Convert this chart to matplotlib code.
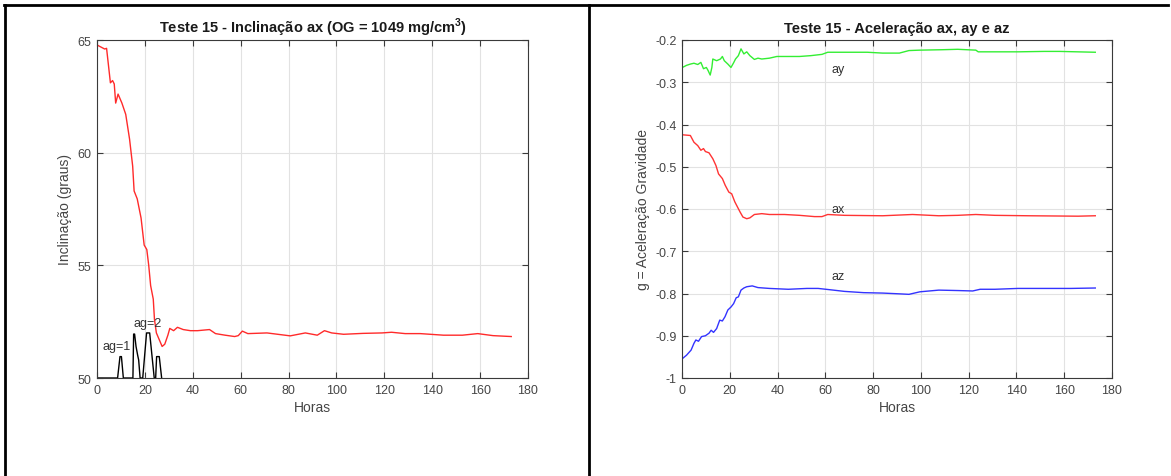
import numpy as np
import matplotlib
matplotlib.use("Agg")
import matplotlib.pyplot as plt
from matplotlib.lines import Line2D

plt.rcParams['font.family'] = ['Liberation Sans', 'DejaVu Sans']
plt.rcParams['mathtext.fontset'] = 'custom'
plt.rcParams['mathtext.rm'] = 'Liberation Sans:bold'
plt.rcParams['mathtext.bf'] = 'Liberation Sans:bold'

# =========================
# Data
# =========================
# Left: inclination ax (graus)
incl_t = [0, 3.2, 4, 5.6, 6.5, 7.2, 7.8, 8.8, 10.4, 12, 13.6, 14.9, 15.5, 16.8,
          18.4, 19.7, 20.8, 21.6, 22.4, 23.5, 24, 24.8, 26, 27.2, 28.3, 29.6,
          30.4, 32, 33.6, 36, 39, 42, 47, 49.5, 53.5, 57.5, 59, 60.7, 63, 71,
          80.7, 87, 92, 95, 98, 103, 111, 119, 123, 128.7, 135, 144.7, 152.6,
          159, 165.4, 173]
incl_v = [64.78, 64.6, 64.63, 63.1, 63.2, 63.05, 62.2, 62.6, 62.2, 61.7, 60.6,
          59.4, 58.3, 57.95, 57.1, 55.9, 55.7, 55.0, 54.1, 53.5, 52.6, 52.0,
          51.7, 51.4, 51.5, 51.9, 52.2, 52.1, 52.25, 52.15, 52.1, 52.1, 52.15,
          51.97, 51.9, 51.84, 51.88, 52.08, 51.97, 52.0, 51.87, 52.0, 51.9,
          52.1, 52.0, 51.94, 51.98, 52.0, 52.03, 51.97, 51.97, 51.9, 51.9,
          51.97, 51.88, 51.84]

# Left: agitation curve (drawn in the same axis units)
ag_t = [0, 8.6, 9.6, 10.2, 11.0, 15.0, 15.3, 15.7, 16.3, 17.0, 17.4, 18.0,
        19.1, 20.7, 22.0, 23.9, 24.5, 24.9, 26.0, 27.0]
ag_v = [50, 50, 50.95, 50.95, 50, 50, 51.95, 51.95, 51.4, 51.0, 50.8, 50,
        50, 52.0, 52.0, 50, 50, 50.95, 50.95, 50]

# Right: accelerations (g)
ay_t = [0.3, 1.9, 3.5, 5, 6.6, 7.9, 9, 10.2, 10.9, 11.8, 12.5, 12.9, 14.5, 16.1,
        16.9, 17.7, 19.2, 20.5, 21.6, 22.4, 23.6, 24.7, 25.9, 27.1, 28.4, 30.3,
        31.8, 33.4, 36.6, 39.7, 44.5, 49.2, 54, 58.6, 61, 68, 77.6, 84, 91, 95,
        99.6, 109, 115.4, 123, 124, 131, 140.6, 151.6, 158, 173]
ay_v = [-0.2646, -0.260, -0.257, -0.255, -0.258, -0.253, -0.268, -0.265,
        -0.272, -0.283, -0.265, -0.245, -0.249, -0.245, -0.239, -0.249,
        -0.257, -0.265, -0.254, -0.245, -0.237, -0.221, -0.233, -0.228,
        -0.237, -0.246, -0.243, -0.245, -0.243, -0.239, -0.239, -0.239,
        -0.237, -0.234, -0.229, -0.229, -0.229, -0.231, -0.231, -0.225,
        -0.224, -0.223, -0.222, -0.224, -0.228, -0.228, -0.228, -0.227,
        -0.227, -0.229]

ax_t = [0.3, 3.5, 5, 6.6, 7.9, 9, 9.8, 11.3, 12.9, 14.2, 15.3, 16.9, 18.1,
        19.6, 20.8, 22.1, 23.2, 24.3, 25.5, 27.1, 28.4, 30.3, 33.4, 36.6,
        42.9, 49.2, 55.5, 58.6, 61, 68, 84, 96.5, 107.5, 115.4, 123, 131,
        145, 165.8, 173]
ax_v = [-0.4244, -0.426, -0.442, -0.450, -0.461, -0.457, -0.464, -0.467,
        -0.481, -0.497, -0.517, -0.528, -0.544, -0.560, -0.564, -0.583,
        -0.595, -0.607, -0.619, -0.623, -0.621, -0.613, -0.611, -0.613,
        -0.613, -0.615, -0.618, -0.618, -0.613, -0.615, -0.616, -0.613,
        -0.616, -0.615, -0.613, -0.615, -0.616, -0.617, -0.616]

az_t = [0.3, 1.9, 3.8, 5, 5.8, 6.9, 8.2, 9.8, 11.3, 12.2, 13.2, 14.5, 15.8,
        16.9, 18, 19.2, 20.5, 21.6, 22.7, 23.6, 24.7, 25.9, 27.1, 29.4, 31.8,
        36.6, 44.5, 52.3, 57, 61.8, 68, 76, 84, 91.7, 95, 99.6, 107.5, 115.4,
        121.7, 124.8, 131, 140.6, 147, 162.7, 173]
az_v = [-0.9535, -0.946, -0.934, -0.918, -0.910, -0.913, -0.902, -0.900,
        -0.894, -0.887, -0.892, -0.883, -0.863, -0.865, -0.855, -0.839,
        -0.832, -0.824, -0.810, -0.808, -0.792, -0.787, -0.784, -0.782,
        -0.786, -0.788, -0.790, -0.788, -0.788, -0.791, -0.795, -0.798,
        -0.799, -0.801, -0.802, -0.796, -0.792, -0.793, -0.794, -0.790,
        -0.790, -0.788, -0.788, -0.788, -0.787]

# =========================
# Figure
# =========================
W, H = 1171, 477
fig = plt.figure(figsize=(W / 100, H / 100), dpi=100)

# table-like border lines
fig.add_artist(Line2D([4 / W, 1168 / W], [1 - 6 / H, 1 - 6 / H], color='black', lw=2))
fig.add_artist(Line2D([5 / W, 5 / W], [0, 1 - 6 / H], color='black', lw=2))
fig.add_artist(Line2D([589 / W, 589 / W], [0, 1 - 6 / H], color='black', lw=2))

tick_col = '#454545'


def style_axes(ax):
    ax.grid(True, color='#e2e2e2', lw=0.8)
    ax.set_axisbelow(True)
    for s in ax.spines.values():
        s.set_color('#3a3a3a')
        s.set_linewidth(0.8)
    ax.tick_params(direction='in', top=True, right=True, length=4, width=0.8,
                   color='#3a3a3a', labelcolor=tick_col, labelsize=9, pad=4)
    ax.set_xlim(0, 180)
    ax.set_xticks(np.arange(0, 181, 20))
    ax.set_xlabel('Horas', fontsize=10, color=tick_col, labelpad=3)


def axes_rect(left, right, top, bottom):
    return [left / W, 1 - bottom / H, (right - left) / W, (bottom - top) / H]


# Left chart
ax1 = fig.add_axes(axes_rect(97, 528, 41, 379))
style_axes(ax1)
ax1.plot(incl_t, incl_v, color='#ff2a2a', lw=1.0)
ax1.plot(ag_t, ag_v, color='black', lw=1.0)
ax1.set_ylim(50, 65)
ax1.set_yticks([50, 55, 60, 65])
ax1.set_ylabel('Inclinação (graus)', fontsize=10, color=tick_col, labelpad=4)
ax1.text(2.5, 51.43, 'ag=1', fontsize=9, color='#333333', va='center', ha='left')
ax1.text(15.2, 52.44, 'ag=2', fontsize=9, color='#333333', va='center', ha='left')
ax1.text(0.5, 1 + 8 / 338, 'Teste 15 - Inclinação ax (OG = 1049 mg/cm$^{\\mathbf{3}}$)',
         transform=ax1.transAxes, ha='center', va='baseline',
         fontsize=10.5, fontweight='bold', color='#1a1a1a')

# Right chart
ax2 = fig.add_axes(axes_rect(682, 1112, 41, 379))
style_axes(ax2)
ax2.plot(ay_t, ay_v, color='#33ee33', lw=1.0)
ax2.plot(ax_t, ax_v, color='#ff3333', lw=1.0)
ax2.plot(az_t, az_v, color='#3333ff', lw=1.0)
ax2.set_ylim(-1, -0.2)
ax2.set_yticks(np.round(np.arange(-1, -0.15, 0.1), 1))
ax2.set_yticklabels(['-1', '-0.9', '-0.8', '-0.7', '-0.6', '-0.5', '-0.4', '-0.3', '-0.2'])
ax2.set_ylabel('g = Aceleração Gravidade', fontsize=10, color=tick_col, labelpad=4)
ax2.text(62.6, -0.2685, 'ay', fontsize=9, color='#333333', va='center')
ax2.text(62.6, -0.601, 'ax', fontsize=9, color='#333333', va='center')
ax2.text(62.6, -0.759, 'az', fontsize=9, color='#333333', va='center')
ax2.text(0.5, 1 + 8 / 338, 'Teste 15 - Aceleração ax, ay e az',
         transform=ax2.transAxes, ha='center', va='baseline',
         fontsize=10.5, fontweight='bold', color='#1a1a1a')

fig.savefig('out.png', dpi=100)
